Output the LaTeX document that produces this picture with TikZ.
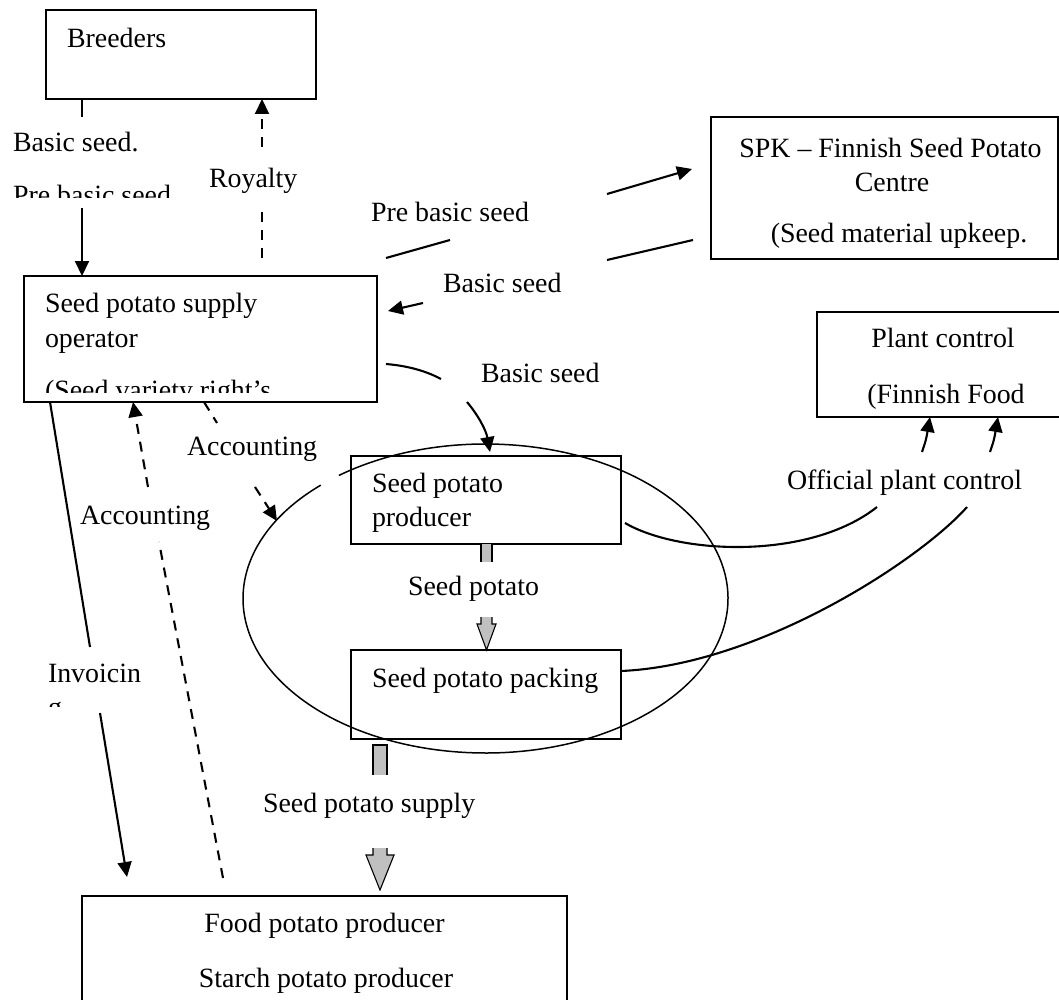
\documentclass[tikz,border=0pt]{standalone}
\usepackage{fontspec}
\setmainfont{Liberation Serif}
\usetikzlibrary{arrows.meta}
\definecolor{blockgray}{RGB}{192,192,192}
\newcommand{\diafs}{\fontsize{27.9pt}{34pt}\selectfont}
\begin{document}
\begin{tikzpicture}[x=1pt,y=-1pt,
  box/.style={draw, line width=1.9pt, inner sep=0pt, outer sep=0pt, anchor=north west},
  txt/.style={inner sep=0pt, outer sep=0pt, font=\diafs},
  conn/.style={line width=2.1pt},
  arr/.style={conn, -{Triangle[length=15pt,width=14pt]}},
  dsh/.style={conn, dash pattern=on 10pt off 8pt},
  ring/.style={line width=1.5pt},
  blk/.style={line width=1.1pt, fill=blockgray}]
\useasboundingbox (0,0) rectangle (1059,1000);

% boxes
\node[box, minimum width=270pt, minimum height=89pt] (breeders) at (46,10) {};
\node[box, minimum width=353pt, minimum height=126pt] (operator) at (24,276) {};
\node[box, minimum width=347pt, minimum height=142pt] (spk) at (711,117) {};
\node[box, minimum width=252pt, minimum height=105pt] (plant) at (817,312) {};
\node[box, minimum width=270pt, minimum height=88pt] (producer) at (351,456) {};
\node[box, minimum width=270pt, minimum height=89pt] (packing) at (351,650) {};
\node[box, minimum width=485pt, minimum height=130pt] (food) at (82,896) {};

% ellipse with gap
\draw[ring] (485.5,598.5) ++(232.8:242.5 and 154.5)
  arc[start angle=232.8, end angle=587.2, x radius=242.5, y radius=154.5];

% Breeders -> operator
\coordinate (b1) at (82,117);
\coordinate (b2) at (82,208);
\draw[conn] (breeders.south -| b1) -- (b1);
\draw[arr] (b2) -- (operator.north -| b2);

% Royalty
\coordinate (r1) at (262,258);
\coordinate (r2) at (262,212);
\coordinate (r3) at (262,147);
\draw[dsh] (r1) -- (r2);
\draw[dsh, arr] (r3) -- (breeders.south -| r3);

% Pre basic seed -> SPK
\coordinate (p1) at (386,258);
\coordinate (p2) at (450,240);
\coordinate (p3) at (607,194);
\coordinate (p4) at (692,169);
\draw[conn] (p1) -- (p2);
\draw[arr] (p3) -- (p4);

% Basic seed SPK -> operator
\coordinate (s1) at (693,240);
\coordinate (s2) at (607,260);
\coordinate (s3) at (423,303);
\coordinate (s4) at (388,311);
\draw[conn] (s1) -- (s2);
\draw[arr] (s3) -- (s4);

% Basic seed operator -> producer (curved)
\coordinate (c1) at (386,364);
\coordinate (c2) at (441,379);
\coordinate (c3) at (467,402);
\coordinate (c4) at (490,452);
\draw[conn] (c1) .. controls (410,366) and (428,372) .. (c2);
\draw[arr] (c3) .. controls (478,415) and (486,430) .. (c4);

% Accounting operator -> ring
\coordinate (a1) at (217,423);
\coordinate (a2) at (255,487);
\coordinate (a3) at (277,521);
\draw[dsh] (operator.south -| 204,0) -- (a1);
\draw[dsh, arr] (a2) -- (a3);

% Accounting food -> operator
\coordinate (d1) at (223,878);
\coordinate (d2) at (159,542);
\coordinate (d3) at (148,487);
\draw[dsh] (d1) -- (d2);
\draw[dsh, arr] (d3) -- (operator.south -| 133,0);

% Invoicing operator -> food
\coordinate (i1) at (90,647);
\coordinate (i2) at (100,713);
\coordinate (i3) at (127,877);
\draw[conn] (operator.south -| 50,0) -- (i1);
\draw[arr] (i2) -- (i3);

% Official plant control
\coordinate (o1) at (625,523);
\coordinate (o2) at (877,507);
\coordinate (o3) at (922,452);
\coordinate (o4) at (621,671);
\coordinate (o5) at (967,507);
\coordinate (o6) at (990,452);
\draw[conn] (o1) .. controls (680,555) and (810,560) .. (o2);
\draw[arr] (o3) .. controls (926,440) .. (plant.south -| 930,0);
\draw[conn] (packing.east |- o4) .. controls (760,665) and (920,560) .. (o5);
\draw[arr] (o6) .. controls (994,440) .. (plant.south -| 998,0);

% block arrow producer -> packing
\fill[blockgray] (481,544) rectangle (492,562);
\draw[line width=1.1pt] (481,544) -- (481,562) (492,544) -- (492,562);
\fill[blockgray] (481,617) -- (481,624) -- (477,624) -- (486.5,650) -- (496,624) -- (492,624) -- (492,617) -- cycle;
\draw[line width=1.1pt] (481,617) -- (481,624) -- (477,624) -- (486.5,650) -- (496,624) -- (492,624) -- (492,617);

% block arrow packing -> food
\fill[blockgray] (373,745) rectangle (387,775);
\draw[line width=1.1pt] (373,775) -- (373,745) -- (387,745) -- (387,775);
\fill[blockgray] (373,848) -- (373,855) -- (366,855) -- (380,890) -- (394,855) -- (387,855) -- (387,848) -- cycle;
\draw[line width=1.1pt] (373,848) -- (373,855) -- (366,855) -- (380,890) -- (394,855) -- (387,855) -- (387,848);

% texts
\node[txt, anchor=base west] (tbreeders) at (67,48) {Breeders};
\begin{scope}
  \clip (0,100) rectangle (250,198);
  \node[txt, anchor=base west] (tbasic1) at (13,152) {Basic seed.};
  \node[txt, anchor=base west] (tpre1) at (13,205) {Pre basic seed};
\end{scope}
\node[txt, anchor=base west] (troyalty) at (209,188) {Royalty};

\node[txt, anchor=base west] (top1) at (45,312) {Seed potato supply};
\node[txt, anchor=base west] (top2) at (45,347) {operator};
\begin{scope}
  \clip (24,276) rectangle (377,392);
  \node[txt, anchor=base west] (top3) at (45,399) {(Seed variety right’s};
\end{scope}

\node[txt, anchor=base] (tspk1) at (890.5,158) {SPK – Finnish Seed Potato};
\node[txt, anchor=base] (tspk2) at (892,192) {Centre};
\node[txt, anchor=base] (tspk3) at (899,243) {(Seed material upkeep.};

\node[txt, anchor=base west] (tpre2) at (371,222) {Pre basic seed};
\node[txt, anchor=base west] (tbasic2) at (443,292) {Basic seed};
\node[txt, anchor=base west] (tbasic3) at (481,382) {Basic seed};

\node[txt, anchor=base] (tplant1) at (943,347) {Plant control};
\node[txt, anchor=base] (tplant2) at (946,403) {(Finnish Food};
\node[txt, anchor=base west] (tofficial) at (787,489) {Official plant control};

\node[txt, anchor=base west] (tacc1) at (187,455) {Accounting};
\node[txt, anchor=base west] (tacc2) at (80,524) {Accounting};

\node[txt, anchor=base west] (tprod1) at (372,492) {Seed potato};
\node[txt, anchor=base west] (tprod2) at (372,526) {producer};
\node[txt, anchor=base west] (tseedpot) at (408,595) {Seed potato};
\node[txt, anchor=base west] (tpack) at (372,687) {Seed potato packing};
\node[txt, anchor=base west] (tsupply) at (263,812) {Seed potato supply};

\node[txt, anchor=base west] (tinv1) at (48,682) {Invoicin};
\begin{scope}
  \clip (0,690) rectangle (200,706);
  \node[txt, anchor=base west] (tinv2) at (48,716) {g};
\end{scope}

\node[txt, anchor=base] (tfood1) at (324.5,932) {Food potato producer};
\node[txt, anchor=base] (tfood2) at (326,987) {Starch potato producer};
\end{tikzpicture}
\end{document}
